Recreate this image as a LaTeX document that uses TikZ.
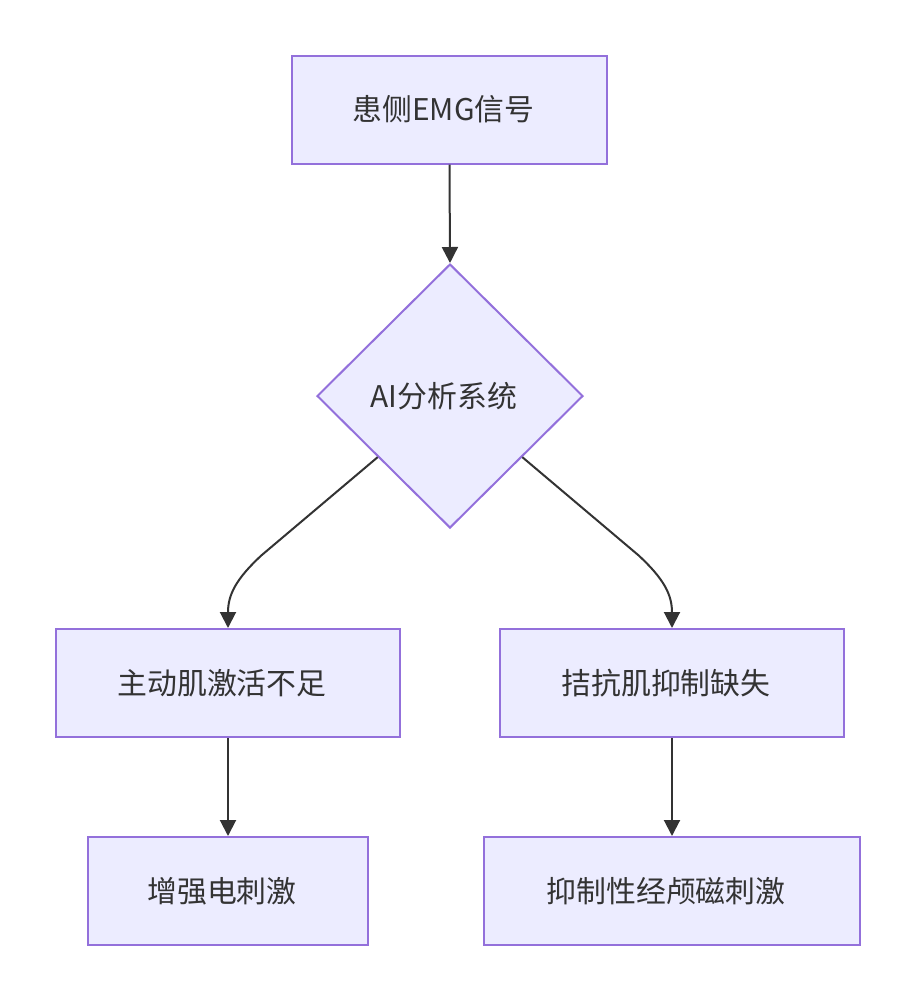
\documentclass[tikz,border=0pt]{standalone}
\usepackage{fontspec}
\setmainfont{Noto Sans CJK SC}
\usetikzlibrary{shapes.geometric,arrows.meta,calc}
\definecolor{nodefill}{HTML}{ECECFF}
\definecolor{nodeline}{HTML}{9370DB}
\definecolor{edgecol}{HTML}{333333}
\begin{document}
\begin{tikzpicture}[x=0.75pt,y=-0.75pt,
  txt/.style={text=edgecol,font=\fontsize{22.4}{26}\selectfont,execute at end node={\hspace*{9pt}}},
  box/.style={txt,draw=nodeline,fill=nodefill,line width=1.5pt,inner sep=0pt,
    minimum height=81pt},
  dec/.style={txt,shape=diamond,draw=nodeline,fill=nodefill,line width=1.5pt,inner sep=0pt,aspect=1,
    minimum width=199.5pt,minimum height=198pt},
  edge/.style={draw=edgecol,line width=1.5pt,-{Triangle[length=12pt,width=12pt]}}]
\useasboundingbox (0,0) rectangle (916,1001);
\node[box,minimum width=236pt] (a) at (449.5,109.5) {患侧EMG信号};
\node[dec] (b) at (450,396) {AI分析系统};
\node[box,minimum width=258pt] (c) at (228,683) {主动肌激活不足};
\node[box,minimum width=258pt] (d) at (672,683) {拮抗肌抑制缺失};
\node[box,minimum width=210pt] (e) at (228,891) {增强电刺激};
\node[box,minimum width=282pt] (f) at (672,891) {抑制性经颅磁刺激};
\coordinate (bl) at ($(b.west)!0.46!(b.south)$);
\coordinate (br) at ($(b.east)!0.46!(b.south)$);
\draw[edge] (a.south) -- (b.north);
\draw[edge] (bl) -- ++(-116,98) .. controls ++(-26,24) and (c.north|-0,595) .. (c.north);
\draw[edge] (br) -- ++(116,98) .. controls ++(26,24) and (d.north|-0,595) .. (d.north);
\draw[edge] (c.south) -- (e.north);
\draw[edge] (d.south) -- (f.north);
\end{tikzpicture}
\end{document}
